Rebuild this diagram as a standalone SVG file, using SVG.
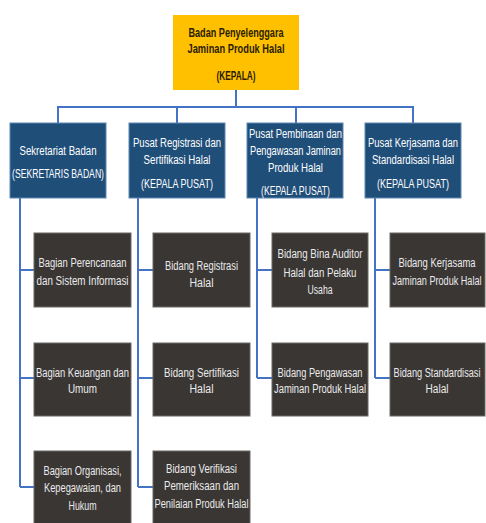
<svg xmlns="http://www.w3.org/2000/svg" width="486" height="523" viewBox="0 0 486 523">
<style>
.top{fill:#FFC000;}
.l2{fill:#1F4E79;stroke:#5d87b5;stroke-width:1;}
.l3{fill:#3A3634;stroke:#6b6866;stroke-width:1;}
.tt{font-family:"Liberation Sans",Arial,sans-serif;font-size:12.5px;font-weight:bold;fill:#2a2000;text-anchor:middle;}
.t2{font-family:"Liberation Sans",Arial,sans-serif;font-size:12.5px;fill:#ffffff;text-anchor:middle;}
.t3{font-family:"Liberation Sans",Arial,sans-serif;font-size:12.5px;fill:#ebebeb;text-anchor:middle;}
.c{fill:none;stroke:#4472C4;stroke-width:2;}
</style>
<rect width="486" height="523" fill="#ffffff"/>
<g id="connectors">
<path class="c" d="M236 90V107M58 107H413M58 106V123M177 106V123M296 106V123M413 106V123"/>
<path class="c" d="M20 198V487M20 270H34M20 378H34M20 487H34"/>
<path class="c" d="M138 198V487M138 270H153M138 378H153M138 487H153"/>
<path class="c" d="M257 198V378M257 270H272M257 378H272"/>
<path class="c" d="M375 198V378M375 270H390M375 378H390"/>
</g>
<g id="kepala">
<rect class="top" x="173" y="15" width="126" height="75"/>
<text class="tt" x="236" y="36.5" textLength="95" lengthAdjust="spacingAndGlyphs">Badan Penyelenggara</text>
<text class="tt" x="236" y="52.5" textLength="97" lengthAdjust="spacingAndGlyphs">Jaminan Produk Halal</text>
<text class="tt" x="236" y="79.5" textLength="39" lengthAdjust="spacingAndGlyphs">(KEPALA)</text>
</g>
<g id="sekretariat">
<rect class="l2" x="10" y="123" width="96" height="75"/>
<text class="t2" x="58" y="154.5" textLength="77" lengthAdjust="spacingAndGlyphs">Sekretariat Badan</text>
<text class="t2" x="58" y="177.5" textLength="92" lengthAdjust="spacingAndGlyphs">(SEKRETARIS BADAN)</text>
</g>
<g id="pusat-registrasi">
<rect class="l2" x="129" y="123" width="96" height="75"/>
<text class="t2" x="177" y="146.5" textLength="88" lengthAdjust="spacingAndGlyphs">Pusat Registrasi dan</text>
<text class="t2" x="177" y="163.5" textLength="67" lengthAdjust="spacingAndGlyphs">Sertifikasi Halal</text>
<text class="t2" x="177" y="187.5" textLength="72" lengthAdjust="spacingAndGlyphs">(KEPALA PUSAT)</text>
</g>
<g id="pusat-pembinaan">
<rect class="l2" x="247" y="123" width="96" height="75"/>
<text class="t2" x="295.5" y="137.5" textLength="93" lengthAdjust="spacingAndGlyphs">Pusat Pembinaan dan</text>
<text class="t2" x="295.5" y="154.5" textLength="91" lengthAdjust="spacingAndGlyphs">Pengawasan Jaminan</text>
<text class="t2" x="295.5" y="171.5" textLength="55" lengthAdjust="spacingAndGlyphs">Produk Halal</text>
<text class="t2" x="295.5" y="194.5" textLength="69" lengthAdjust="spacingAndGlyphs">(KEPALA PUSAT)</text>
</g>
<g id="pusat-kerjasama">
<rect class="l2" x="365" y="123" width="96" height="75"/>
<text class="t2" x="413" y="146.5" textLength="90" lengthAdjust="spacingAndGlyphs">Pusat Kerjasama dan</text>
<text class="t2" x="413" y="163.5" textLength="82" lengthAdjust="spacingAndGlyphs">Standardisasi Halal</text>
<text class="t2" x="413" y="187.5" textLength="72" lengthAdjust="spacingAndGlyphs">(KEPALA PUSAT)</text>
</g>
<g id="bagian-perencanaan">
<rect class="l3" x="34" y="233" width="97" height="74"/>
<text class="t3" x="82.5" y="266.5" textLength="88" lengthAdjust="spacingAndGlyphs">Bagian Perencanaan</text>
<text class="t3" x="82.5" y="284.5" textLength="92" lengthAdjust="spacingAndGlyphs">dan Sistem Informasi</text>
</g>
<g id="bagian-keuangan">
<rect class="l3" x="34" y="343" width="97" height="73"/>
<text class="t3" x="82.5" y="376.5" textLength="93" lengthAdjust="spacingAndGlyphs">Bagian Keuangan dan</text>
<text class="t3" x="82.5" y="392.5" textLength="29" lengthAdjust="spacingAndGlyphs">Umum</text>
</g>
<g id="bagian-organisasi">
<rect class="l3" x="34" y="451" width="97" height="80"/>
<text class="t3" x="82.5" y="474.5" textLength="78" lengthAdjust="spacingAndGlyphs">Bagian Organisasi,</text>
<text class="t3" x="82.5" y="491.5" textLength="77" lengthAdjust="spacingAndGlyphs">Kepegawaian, dan</text>
<text class="t3" x="82.5" y="509.5" textLength="28" lengthAdjust="spacingAndGlyphs">Hukum</text>
</g>
<g id="bidang-registrasi">
<rect class="l3" x="153" y="233" width="97" height="74"/>
<text class="t3" x="201.5" y="269.5" textLength="73" lengthAdjust="spacingAndGlyphs">Bidang Registrasi</text>
<text class="t3" x="201.5" y="286.5" textLength="24" lengthAdjust="spacingAndGlyphs">Halal</text>
</g>
<g id="bidang-sertifikasi">
<rect class="l3" x="153" y="343" width="97" height="73"/>
<text class="t3" x="201.5" y="376.5" textLength="75" lengthAdjust="spacingAndGlyphs">Bidang Sertifikasi</text>
<text class="t3" x="201.5" y="392.5" textLength="24" lengthAdjust="spacingAndGlyphs">Halal</text>
</g>
<g id="bidang-verifikasi">
<rect class="l3" x="153" y="451" width="97" height="80"/>
<text class="t3" x="201.5" y="472.5" textLength="71" lengthAdjust="spacingAndGlyphs">Bidang Verifikasi</text>
<text class="t3" x="201.5" y="489.5" textLength="75" lengthAdjust="spacingAndGlyphs">Pemeriksaan dan</text>
<text class="t3" x="201.5" y="507.5" textLength="94" lengthAdjust="spacingAndGlyphs">Penilaian Produk Halal</text>
</g>
<g id="bidang-bina-auditor">
<rect class="l3" x="272" y="233" width="96" height="74"/>
<text class="t3" x="320" y="257.5" textLength="85" lengthAdjust="spacingAndGlyphs">Bidang Bina Auditor</text>
<text class="t3" x="320" y="276.5" textLength="73" lengthAdjust="spacingAndGlyphs">Halal dan Pelaku</text>
<text class="t3" x="320" y="293.5" textLength="25" lengthAdjust="spacingAndGlyphs">Usaha</text>
</g>
<g id="bidang-pengawasan">
<rect class="l3" x="272" y="343" width="96" height="73"/>
<text class="t3" x="320" y="376.5" textLength="85" lengthAdjust="spacingAndGlyphs">Bidang Pengawasan</text>
<text class="t3" x="320" y="392.5" textLength="92" lengthAdjust="spacingAndGlyphs">Jaminan Produk Halal</text>
</g>
<g id="bidang-kerjasama">
<rect class="l3" x="390" y="233" width="95" height="74"/>
<text class="t3" x="437" y="266.5" textLength="77" lengthAdjust="spacingAndGlyphs">Bidang Kerjasama</text>
<text class="t3" x="437" y="284.5" textLength="89" lengthAdjust="spacingAndGlyphs">Jaminan Produk Halal</text>
</g>
<g id="bidang-standardisasi">
<rect class="l3" x="390" y="343" width="95" height="73"/>
<text class="t3" x="437" y="376.5" textLength="87" lengthAdjust="spacingAndGlyphs">Bidang Standardisasi</text>
<text class="t3" x="437" y="392.5" textLength="23" lengthAdjust="spacingAndGlyphs">Halal</text>
</g>
</svg>
